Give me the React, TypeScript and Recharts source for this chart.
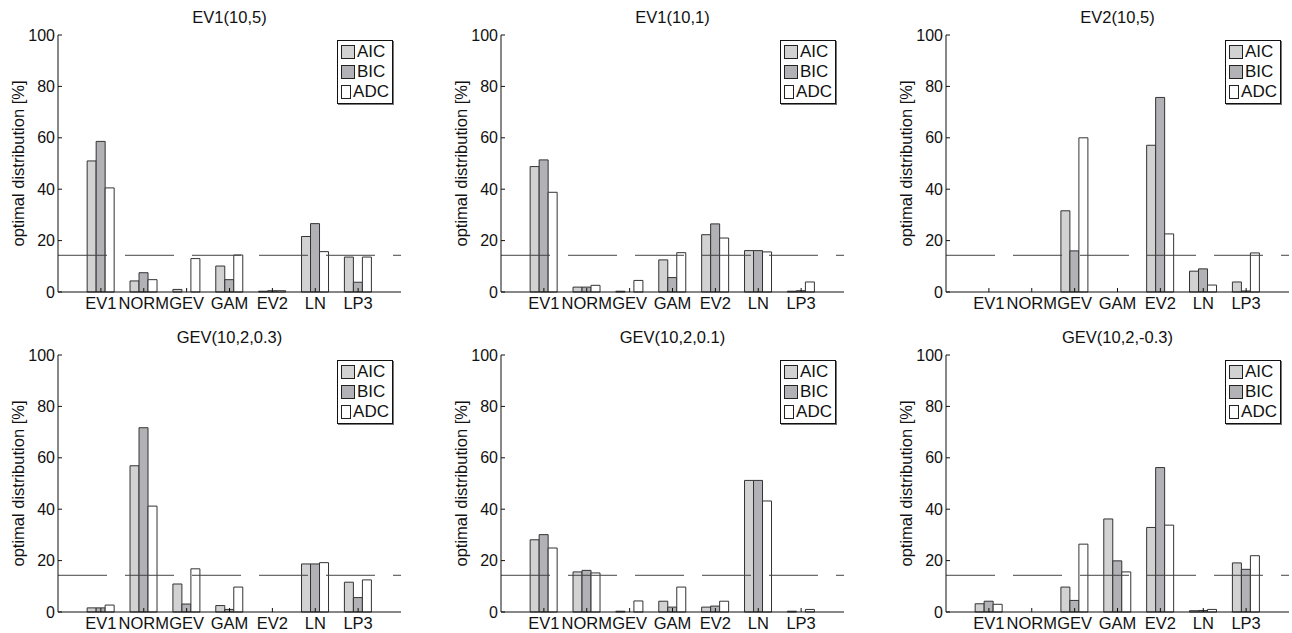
import { Bar, BarChart, Label, Legend, ReferenceLine, XAxis, YAxis } from "recharts"

const categories = ["EV1", "NORM", "GEV", "GAM", "EV2", "LN", "LP3"]
const yTicks = [0, 20, 40, 60, 80, 100]
const equalShare = 100 / 7

// EV1(10,5)
const ev1a_aic = [51.0, 4.3, 1.0, 10.1, 0.3, 21.6, 13.6]
const ev1a_bic = [58.6, 7.5, 0, 4.8, 0.5, 26.6, 3.8]
const ev1a_adc = [40.5, 4.8, 13.0, 14.4, 0.5, 15.7, 13.6]

// EV1(10,1)
const ev1b_aic = [48.8, 1.9, 0.3, 12.5, 22.3, 16.1, 0.3]
const ev1b_bic = [51.4, 1.9, 0, 5.6, 26.5, 16.1, 0.5]
const ev1b_adc = [38.8, 2.6, 4.5, 15.3, 21.0, 15.6, 3.9]

// EV2(10,5)
const ev2_aic = [0, 0, 31.6, 0, 57.1, 8.1, 3.9]
const ev2_bic = [0, 0, 16.0, 0, 75.7, 9.0, 0.4]
const ev2_adc = [0, 0, 60.0, 0, 22.6, 2.7, 15.2]

// GEV(10,2,0.3)
const gevA_aic = [1.6, 56.9, 10.9, 2.5, 0, 18.7, 11.6]
const gevA_bic = [1.6, 71.7, 3.1, 1.0, 0, 18.7, 5.6]
const gevA_adc = [2.7, 41.2, 16.8, 9.7, 0, 19.2, 12.5]

// GEV(10,2,0.1)
const gevB_aic = [28.1, 15.6, 0.3, 4.2, 1.9, 51.2, 0.3]
const gevB_bic = [30.1, 16.2, 0, 1.9, 2.3, 51.2, 0]
const gevB_adc = [24.9, 15.2, 4.3, 9.7, 4.2, 43.2, 1.0]

// GEV(10,2,-0.3)
const gevC_aic = [3.2, 0, 9.7, 36.2, 32.9, 0.5, 19.1]
const gevC_bic = [4.2, 0, 4.5, 19.9, 56.2, 0.6, 16.6]
const gevC_adc = [3.0, 0, 26.4, 15.6, 33.8, 1.0, 21.9]

const series = [
  { key: "aic", name: "AIC", fill: "#d2d2d2" },
  { key: "bic", name: "BIC", fill: "#b2b2b6" },
  { key: "adc", name: "ADC", fill: "#ffffff" },
]

const toRows = (aic: number[], bic: number[], adc: number[]) =>
  categories.map((name, i) => ({ name, aic: aic[i], bic: bic[i], adc: adc[i] }))

const panels = [
  { title: "EV1(10,5)", rows: toRows(ev1a_aic, ev1a_bic, ev1a_adc), left: 58, top: 35 },
  { title: "EV1(10,1)", rows: toRows(ev1b_aic, ev1b_bic, ev1b_adc), left: 501, top: 35 },
  { title: "EV2(10,5)", rows: toRows(ev2_aic, ev2_bic, ev2_adc), left: 946, top: 35 },
  { title: "GEV(10,2,0.3)", rows: toRows(gevA_aic, gevA_bic, gevA_adc), left: 58, top: 355 },
  { title: "GEV(10,2,0.1)", rows: toRows(gevB_aic, gevB_bic, gevB_adc), left: 501, top: 355 },
  { title: "GEV(10,2,-0.3)", rows: toRows(gevC_aic, gevC_bic, gevC_adc), left: 946, top: 355 },
]

const PLOT_W = 343
const PLOT_H = 257
const AXIS_W = 58
const pad = PLOT_W / 16

function YLabel(props: any) {
  const vb = props.viewBox || { x: 0, y: 0, height: PLOT_H }
  const cx = vb.x + 18
  const cy = vb.y + vb.height / 2
  return (
    <text x={cx} y={cy} transform={`rotate(-90 ${cx} ${cy})`} textAnchor="middle" dominantBaseline="central" fontSize={16.5} fill="#111">
      optimal distribution [%]
    </text>
  )
}

function LegendBox(props: any) {
  // keep the series order (AIC, BIC, ADC) instead of the default sort
  const items = [...(props.payload || [])].sort(
    (a: any, b: any) => series.findIndex((s) => s.name === a.value) - series.findIndex((s) => s.name === b.value)
  )
  return (
    <div style={{ border: "1px solid #111", boxShadow: "1px 1px 0 #777", background: "#fff", padding: "1px 3px", width: 48 }}>
      {items.map((it: any) => (
        <div key={it.value} style={{ display: "flex", alignItems: "center", height: 20, fontSize: 17, color: "#111" }}>
          <span style={{ display: "inline-block", width: 12, height: 12, border: "1px solid #222", background: it.color, marginRight: 2 }} />
          {it.value}
        </div>
      ))}
    </div>
  )
}

function Panel({ title, rows, left, top }: { title: string; rows: any[]; left: number; top: number }) {
  return (
    <>
      <div style={{ position: "absolute", left, top: top - 27, width: PLOT_W, textAlign: "center", fontSize: 16.5, lineHeight: "18px", color: "#111" }}>
        {title}
      </div>
      <div style={{ position: "absolute", left: left - AXIS_W, top: top - 35 }}>
        <BarChart
          width={AXIS_W + PLOT_W + 6}
          height={35 + PLOT_H + 24}
          data={rows}
          margin={{ top: 35, right: 6, bottom: 0, left: 0 }}
          barCategoryGap="18%"
          barGap={0}
        >
          <XAxis
            dataKey="name"
            interval={0}
            padding={{ left: pad, right: pad }}
            height={24}
            tickSize={-4}
            tickMargin={9}
            stroke="#111"
            tick={{ fontSize: 16.5, fill: "#111" }}
          />
          <XAxis xAxisId="top" dataKey="name" orientation="top" padding={{ left: pad, right: pad }} height={0} tickSize={-4} tick={false} stroke="#111" />
          <YAxis
            domain={[0, 100]}
            ticks={yTicks}
            width={AXIS_W}
            tickSize={-4}
            tickMargin={7}
            stroke="#111"
            tick={{ fontSize: 16, fill: "#111" }}
          >
            <Label content={YLabel} />
          </YAxis>
          <YAxis yAxisId="right" orientation="right" domain={[0, 100]} ticks={yTicks} width={0} tickSize={-4} tick={false} stroke="#111" />
          {series.map((s) => (
            <Bar key={s.key} dataKey={s.key} name={s.name} fill={s.fill} stroke="#333" strokeWidth={1} isAnimationActive={false} />
          ))}
          <ReferenceLine y={equalShare} stroke="#444" strokeWidth={1} strokeDasharray="49 18" />
          <Legend
            layout="vertical"
            align="center"
            verticalAlign="middle"
            wrapperStyle={{ top: 40, left: AXIS_W + PLOT_W - 8 - 56, width: 56, height: "auto" }}
            content={LegendBox}
          />
        </BarChart>
      </div>
    </>
  )
}

export default function App() {
  return (
    <div style={{ position: "absolute", left: 0, top: 0, width: 1292, height: 633, overflow: "hidden", background: "#fff", fontFamily: "'Liberation Sans', Arial, Helvetica, sans-serif" }}>
      {panels.map((p) => (
        <Panel key={p.title} {...p} />
      ))}
    </div>
  )
}
